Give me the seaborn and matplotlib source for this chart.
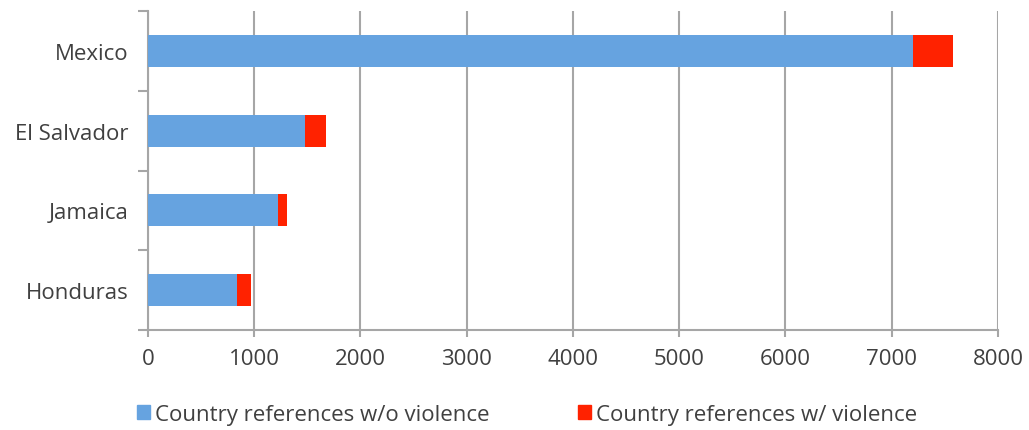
import matplotlib
matplotlib.use('Agg')
import matplotlib.pyplot as plt
import seaborn as sns
import pandas as pd
import numpy as np
from matplotlib.patches import Patch

countries = ['Mexico', 'El Salvador', 'Jamaica', 'Honduras']
without_violence = [7200, 1478, 1223, 840]
with_violence = [375, 197, 85, 126]

df = pd.DataFrame({'Country': countries,
                   'w/o': without_violence,
                   'w/': with_violence})
df['total'] = df['w/o'] + df['w/']

sns.set_style('white')
plt.rcParams['font.family'] = ['Open Sans', 'DejaVu Sans']

blue = '#66a3e0'
red = '#ff2200'
grey = '#a6a6a6'
txt = '#404040'

fig = plt.figure(figsize=(10.29, 4.31), dpi=100)
ax = fig.add_axes([0.1438, 0.232, 0.826, 0.740])

sns.barplot(data=df, y='Country', x='total', color=red, orient='h',
            width=0.4, saturation=1, ax=ax, zorder=3, linewidth=0, edgecolor='none')
sns.barplot(data=df, y='Country', x='w/o', color=blue, orient='h',
            width=0.4, saturation=1, ax=ax, zorder=4, linewidth=0, edgecolor='none')

ax.set_xlim(0, 8000)
ax.set_ylim(3.5, -0.5)
ax.set_xticks(np.arange(0, 8001, 1000))
ax.set_xlabel('')
ax.set_ylabel('')

ax.xaxis.grid(True, color=grey, linewidth=1.5, zorder=0)
ax.set_axisbelow(True)
for s in ['top', 'right']:
    ax.spines[s].set_visible(False)
for s in ['left', 'bottom']:
    ax.spines[s].set_color(grey)
    ax.spines[s].set_linewidth(1.5)

# category boundary ticks on the y axis
ax.set_yticks(np.arange(-0.5, 4, 1), minor=True)
ax.tick_params(axis='y', which='minor', length=7, width=1.5, color=grey, left=True)
ax.tick_params(axis='y', which='major', length=0, pad=14, labelsize=16, labelcolor=txt)
ax.tick_params(axis='x', which='major', length=5, width=1.5, color=grey, bottom=True,
               pad=8, labelsize=16, labelcolor=txt)

handles = [Patch(color=blue, label='Country references w/o violence'),
           Patch(color=red, label='Country references w/ violence')]
leg = fig.legend(handles=handles, loc='center', bbox_to_anchor=(0.512, 0.037), ncol=2,
                 frameon=False, fontsize=16, handlelength=0.6, handleheight=0.6,
                 handletextpad=0.2, columnspacing=4.0)
for t in leg.get_texts():
    t.set_color(txt)

fig.savefig('out.png', dpi=100)
